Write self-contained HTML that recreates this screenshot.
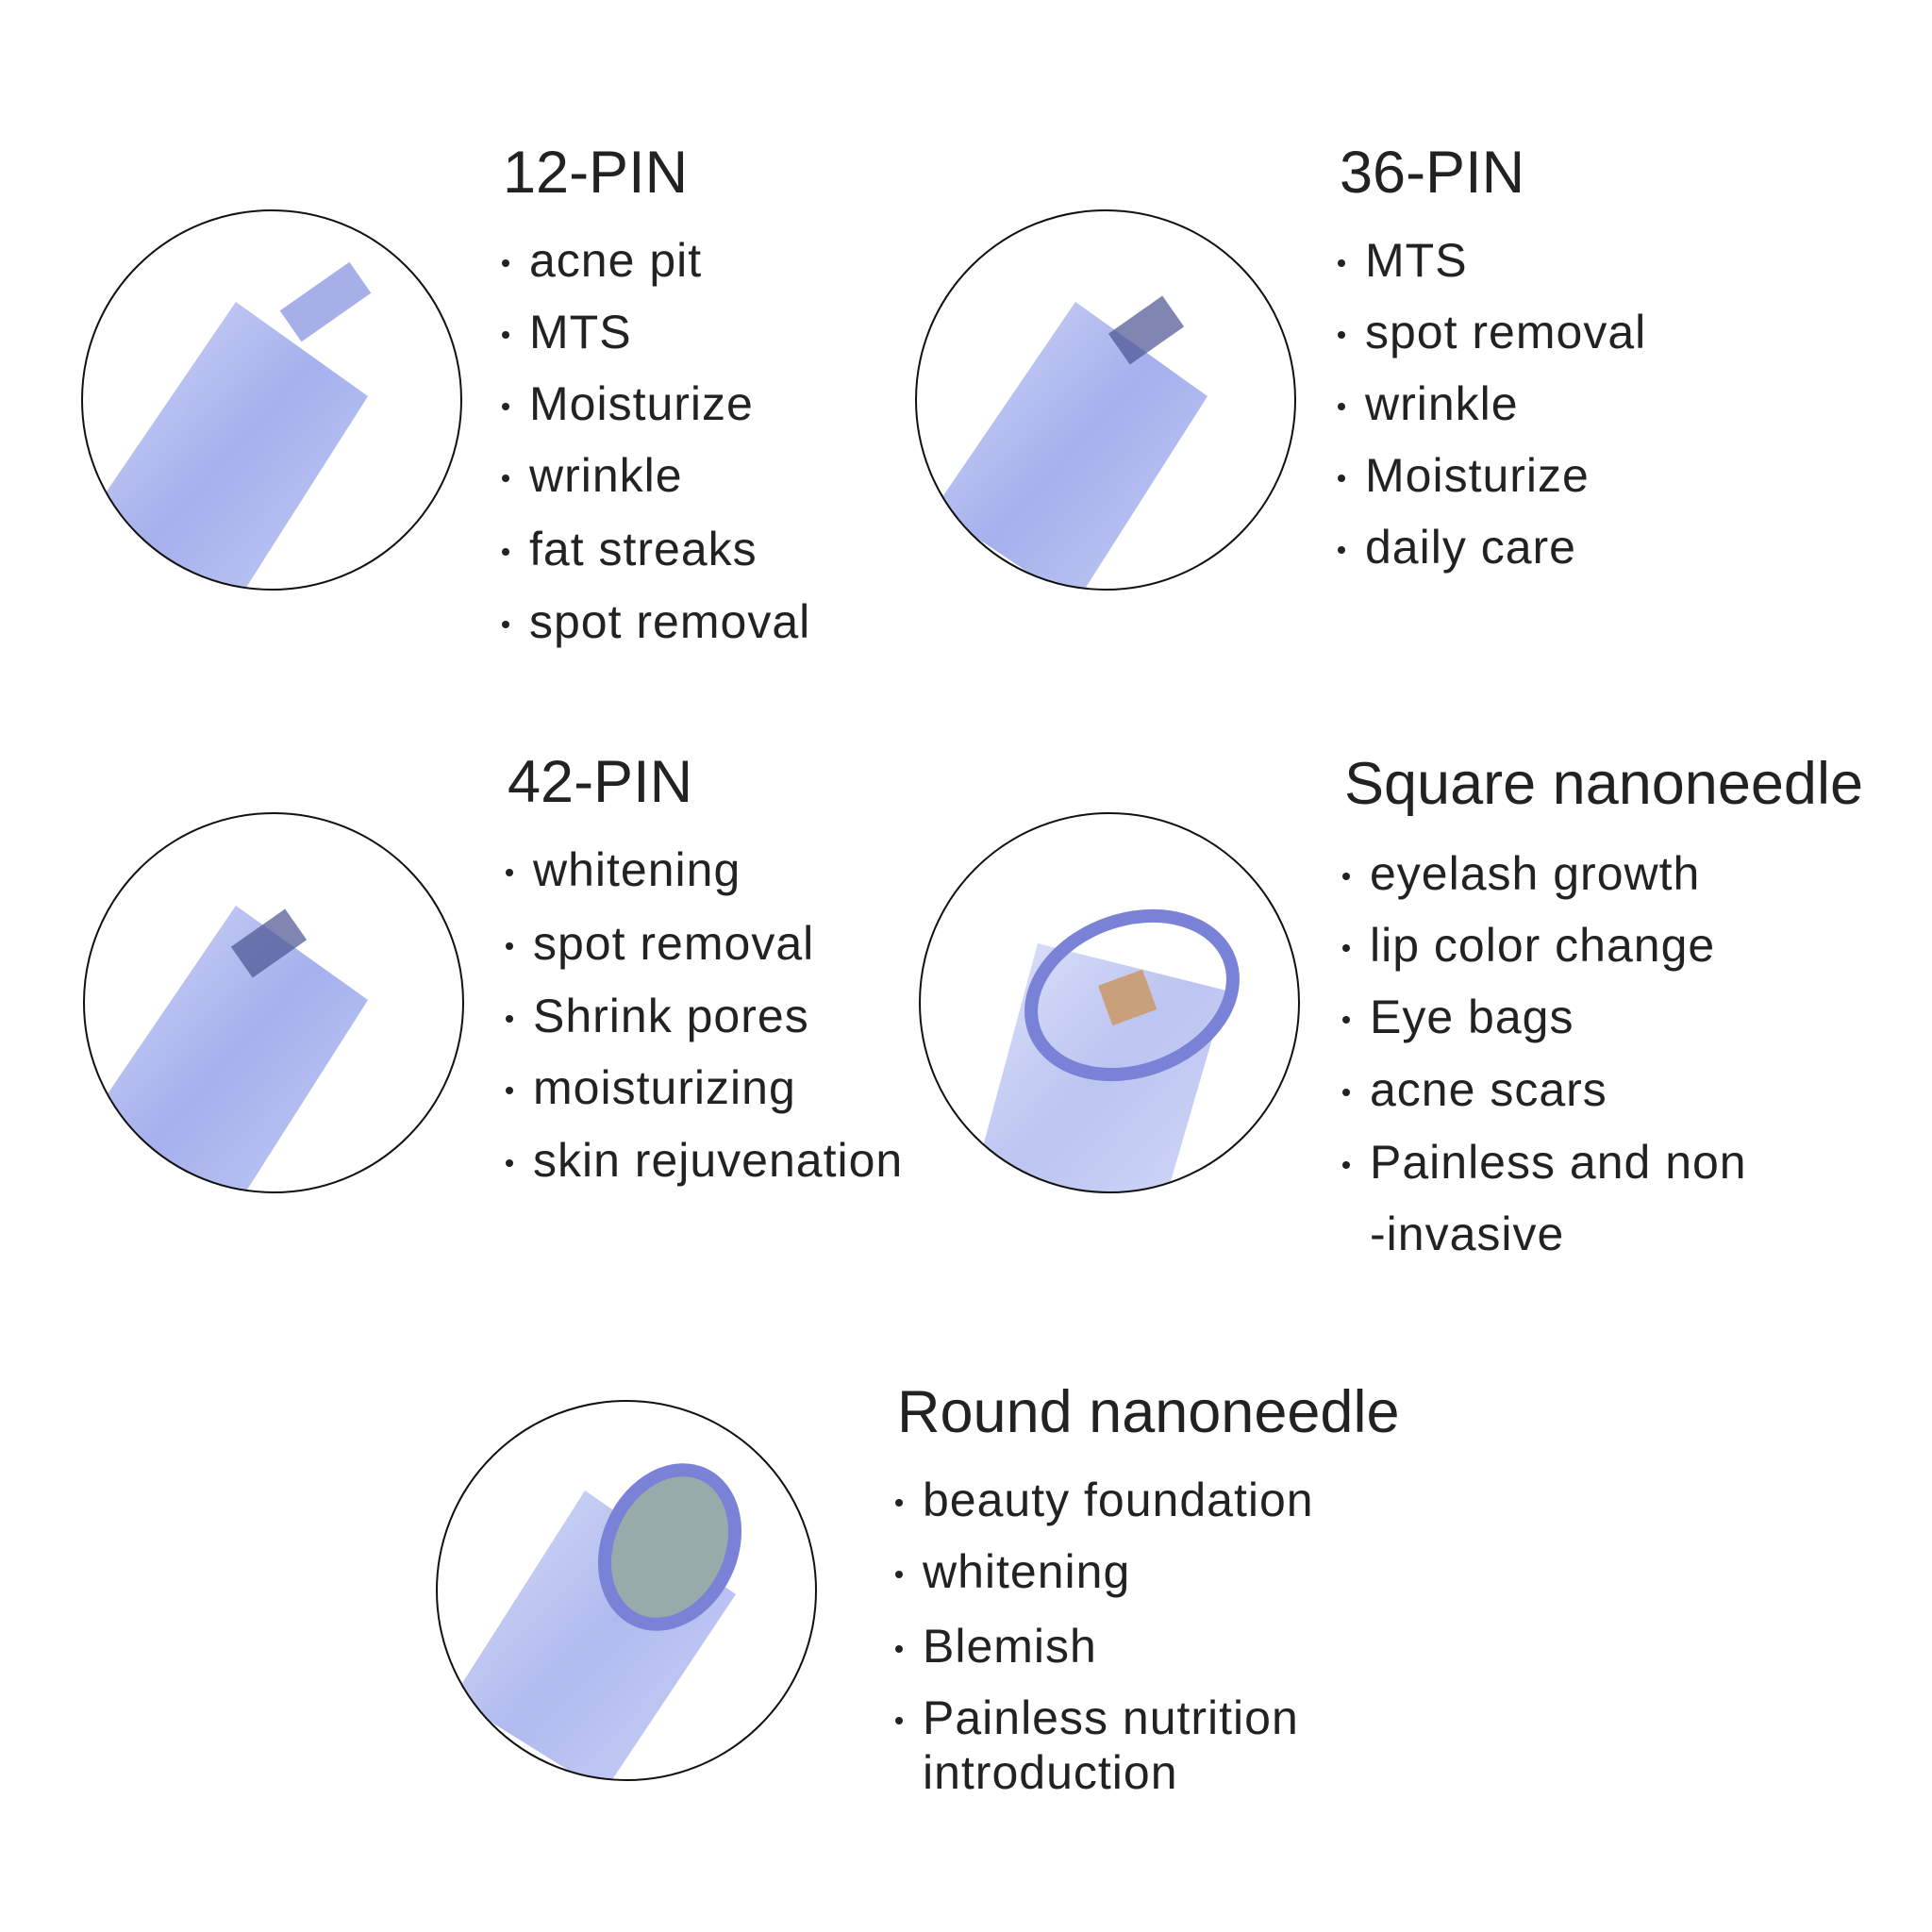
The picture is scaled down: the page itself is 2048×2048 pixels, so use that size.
<!DOCTYPE html>
<html><head><meta charset="utf-8"><style>
body{margin:0;width:2048px;height:2048px;background:#fff;position:relative;overflow:hidden;font-family:"Liberation Sans","Noto Sans CJK SC",sans-serif;color:#222}
.t{position:absolute;white-space:nowrap;font-size:63px;line-height:63px}
.b{position:absolute;white-space:nowrap;font-size:50px;line-height:50px;letter-spacing:1px}
.b::before{content:"";position:absolute;left:-29px;top:24px;width:8px;height:8px;border-radius:50%;background:#222}
.n{position:absolute;white-space:nowrap;font-size:50px;line-height:50px;letter-spacing:1px}
svg{position:absolute;left:0;top:0}
</style></head><body>
<svg width="2048" height="2048">
<defs>
<linearGradient id="g" x1="0" y1="0" x2="1" y2="1">
<stop offset="0" stop-color="#c9d0f5"/><stop offset="0.5" stop-color="#8f9de8"/><stop offset="1" stop-color="#b6c0f2"/></linearGradient>
<clipPath id="c1"><circle cx="288" cy="424" r="201"/></clipPath>
<clipPath id="c2"><circle cx="1172" cy="424" r="201"/></clipPath>
<clipPath id="c3"><circle cx="290" cy="1063" r="201"/></clipPath>
<clipPath id="c4"><circle cx="1176" cy="1063" r="201"/></clipPath>
<clipPath id="c5"><circle cx="664" cy="1686" r="201"/></clipPath>
</defs>
<g clip-path="url(#c1)"><path d="M100 540 L250 320 L390 420 L250 640 Z" fill="url(#g)" opacity="0.8"/><rect x="300" y="300" width="90" height="40" fill="#6c7ad8" opacity="0.6" transform="rotate(-35 345 320)"/></g>
<g clip-path="url(#c2)"><path d="M990 540 L1140 320 L1280 420 L1140 640 Z" fill="url(#g)" opacity="0.8"/><rect x="1180" y="330" width="70" height="40" fill="#4a5290" opacity="0.7" transform="rotate(-35 1215 350)"/></g>
<g clip-path="url(#c3)"><path d="M100 1180 L250 960 L390 1060 L250 1280 Z" fill="url(#g)" opacity="0.8"/><rect x="250" y="980" width="70" height="40" fill="#4a5290" opacity="0.7" transform="rotate(-35 285 1000)"/></g>
<g clip-path="url(#c4)"><path d="M1030 1260 L1100 1000 L1300 1050 L1230 1290 Z" fill="url(#g)" opacity="0.6"/><ellipse cx="1200" cy="1055" rx="110" ry="80" fill="none" stroke="#7a82d8" stroke-width="14" transform="rotate(-20 1200 1055)"/><rect x="1170" y="1035" width="50" height="45" fill="#c9a07a" transform="rotate(-20 1195 1057)"/></g>
<g clip-path="url(#c5)"><path d="M480 1800 L620 1580 L780 1690 L640 1900 Z" fill="url(#g)" opacity="0.7"/><ellipse cx="710" cy="1640" rx="65" ry="85" fill="#9aa" stroke="#7a82d8" stroke-width="14" transform="rotate(25 710 1640)"/></g>
<g fill="none" stroke="#111" stroke-width="2">
<circle cx="288" cy="424" r="201"/><circle cx="1172" cy="424" r="201"/><circle cx="290" cy="1063" r="201"/><circle cx="1176" cy="1063" r="201"/><circle cx="664" cy="1686" r="201"/>
</g>
</svg>
<div class="t" style="left:533px;top:152px">12-PIN</div>
<div class="b" style="left:561px;top:251px">acne pit</div>
<div class="b" style="left:561px;top:327px">MTS</div>
<div class="b" style="left:561px;top:403px">Moisturize</div>
<div class="b" style="left:561px;top:479px">wrinkle</div>
<div class="b" style="left:561px;top:557px">fat streaks</div>
<div class="b" style="left:561px;top:634px">spot removal</div>

<div class="t" style="left:1420px;top:152px">36-PIN</div>
<div class="b" style="left:1447px;top:251px">MTS</div>
<div class="b" style="left:1447px;top:327px">spot removal</div>
<div class="b" style="left:1447px;top:403px">wrinkle</div>
<div class="b" style="left:1447px;top:479px">Moisturize</div>
<div class="b" style="left:1447px;top:555px">daily care</div>

<div class="t" style="left:538px;top:798px">42-PIN</div>
<div class="b" style="left:565px;top:897px">whitening</div>
<div class="b" style="left:565px;top:975px">spot removal</div>
<div class="b" style="left:565px;top:1052px">Shrink pores</div>
<div class="b" style="left:565px;top:1128px">moisturizing</div>
<div class="b" style="left:565px;top:1205px">skin rejuvenation</div>

<div class="t" style="left:1425px;top:800px">Square nanoneedle</div>
<div class="b" style="left:1452px;top:901px">eyelash growth</div>
<div class="b" style="left:1452px;top:977px">lip color change</div>
<div class="b" style="left:1452px;top:1053px">Eye bags</div>
<div class="b" style="left:1452px;top:1130px">acne scars</div>
<div class="b" style="left:1452px;top:1207px">Painless and non</div>
<div class="n" style="left:1452px;top:1283px">-invasive</div>

<div class="t" style="left:951px;top:1466px">Round nanoneedle</div>
<div class="b" style="left:978px;top:1565px">beauty foundation</div>
<div class="b" style="left:978px;top:1641px">whitening</div>
<div class="b" style="left:978px;top:1720px">Blemish</div>
<div class="b" style="left:978px;top:1796px">Painless nutrition</div>
<div class="n" style="left:978px;top:1854px">introduction</div>
</body></html>
